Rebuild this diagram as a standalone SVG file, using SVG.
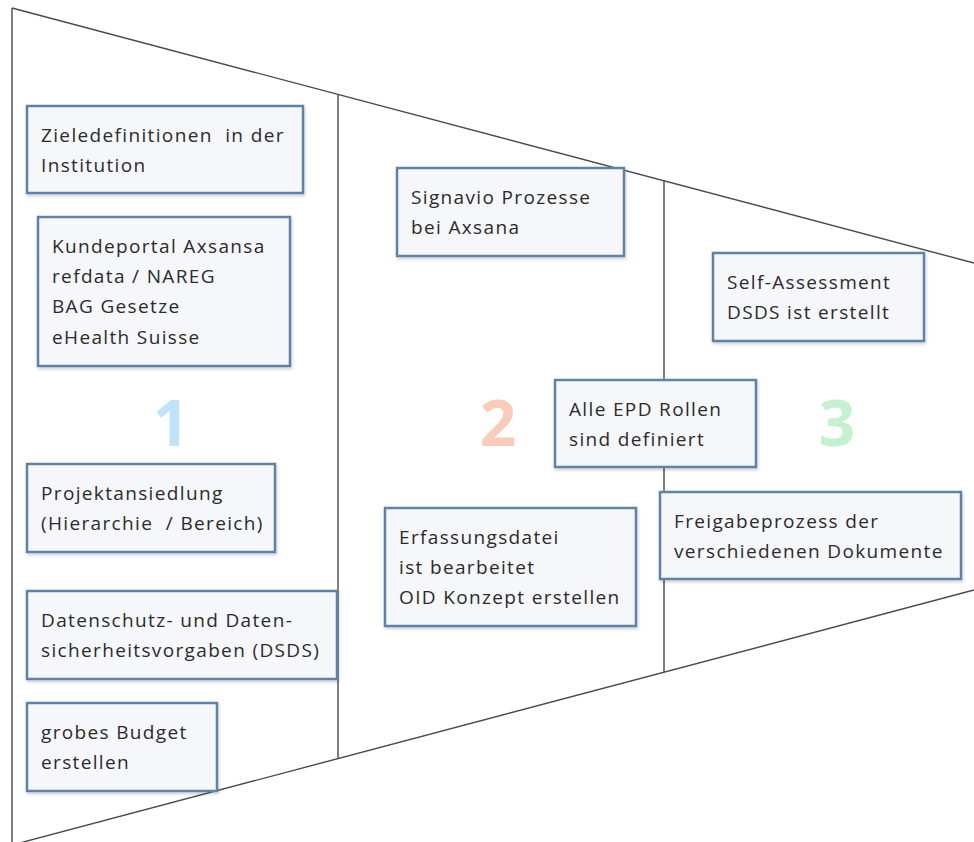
<svg xmlns="http://www.w3.org/2000/svg" width="974" height="842" viewBox="0 0 974 842">
<style>
.frame{fill:none;stroke:#4a4a4a;stroke-width:1.4}
.box rect{fill:#f5f7fa;stroke:#5f82aa;stroke-width:2.5;filter:url(#sh)}
.box text{font-family:"Open Sans","Noto Sans",sans-serif;font-size:19px;letter-spacing:1.35px;fill:#2b2b2b;white-space:pre}
.num{font-family:"Open Sans","Noto Sans",sans-serif;font-size:64px;font-weight:bold;text-anchor:middle}
</style>
<defs>
<filter id="sh" x="-10%" y="-10%" width="120%" height="130%">
<feDropShadow dx="1" dy="2" stdDeviation="1.5" flood-color="#000" flood-opacity="0.18"/>
</filter>
</defs>
<rect width="974" height="842" fill="#fff"/>
<g id="funnel" class="frame">
<line x1="12" y1="8" x2="12" y2="842"/>
<line x1="12" y1="8" x2="974" y2="263"/>
<line x1="12" y1="845" x2="974" y2="590"/>
<line x1="338" y1="94" x2="338" y2="759"/>
<line x1="664" y1="181" x2="664" y2="672"/>
</g>
<g id="connectors"></g>
<text class="num" x="171" y="446" fill="#bfe3fa">1</text>
<text class="num" x="498" y="446" fill="#f9cbb8">2</text>
<text class="num" x="837" y="446" fill="#c4f1ce">3</text>
<g id="n1" class="box"><rect x="27" y="106" width="276" height="87"/><text x="41" y="142" xml:space="preserve">Zieledefinitionen  in der</text><text x="41" y="172">Institution</text></g>
<g id="n2" class="box"><rect x="38" y="217" width="252" height="149"/><text x="52" y="253">Kundeportal Axsansa</text><text x="52" y="283">refdata / NAREG</text><text x="52" y="313">BAG Gesetze</text><text x="52" y="344">eHealth Suisse</text></g>
<g id="n3" class="box"><rect x="27" y="464" width="248" height="88"/><text x="41" y="500">Projektansiedlung</text><text x="41" y="530" xml:space="preserve">(Hierarchie  / Bereich)</text></g>
<g id="n4" class="box"><rect x="27" y="591" width="310" height="88"/><text x="41" y="627">Datenschutz- und Daten-</text><text x="41" y="657">sicherheitsvorgaben (DSDS)</text></g>
<g id="n5" class="box"><rect x="27" y="703" width="190" height="88"/><text x="41" y="739">grobes Budget</text><text x="41" y="769">erstellen</text></g>
<g id="n6" class="box"><rect x="397" y="168" width="227" height="88"/><text x="411" y="204">Signavio Prozesse</text><text x="411" y="234">bei Axsana</text></g>
<g id="n7" class="box"><rect x="385" y="508" width="251" height="118"/><text x="399" y="544">Erfassungsdatei</text><text x="399" y="574">ist bearbeitet</text><text x="399" y="604">OID Konzept erstellen</text></g>
<g id="n8" class="box"><rect x="555" y="380" width="201" height="87"/><text x="569" y="416">Alle EPD Rollen</text><text x="569" y="446">sind definiert</text></g>
<g id="n9" class="box"><rect x="713" y="253" width="211" height="88"/><text x="727" y="289">Self-Assessment</text><text x="727" y="319">DSDS ist erstellt</text></g>
<g id="n10" class="box"><rect x="660" y="492" width="301" height="87"/><text x="674" y="528">Freigabeprozess der</text><text x="674" y="558">verschiedenen Dokumente</text></g>
</svg>
